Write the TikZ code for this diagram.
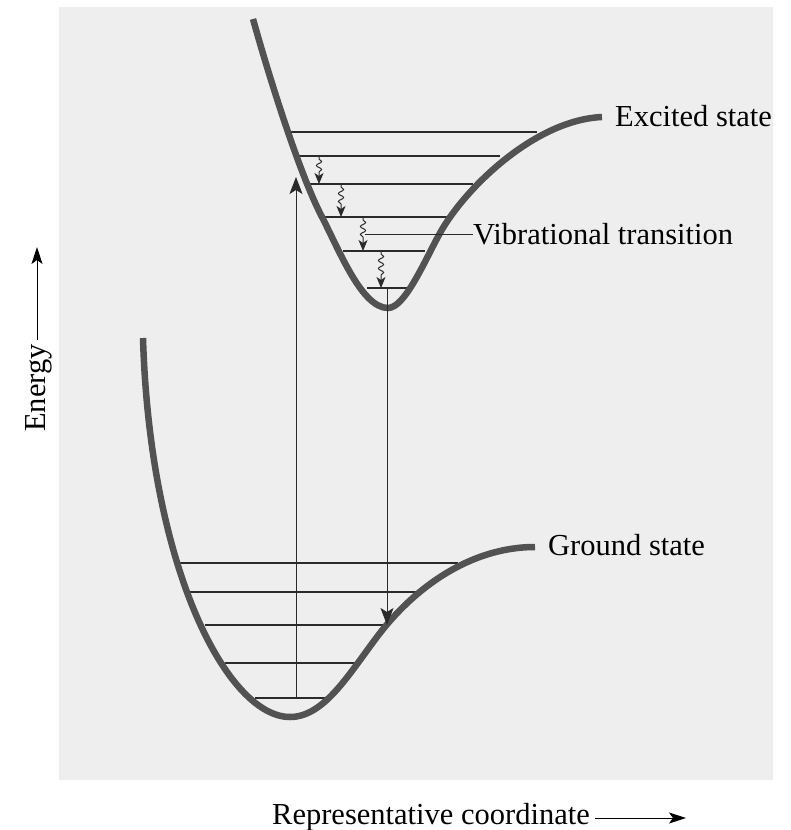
\documentclass[tikz,border=0pt]{standalone}
\usepackage{fontspec}
\setmainfont{Liberation Serif}
\usetikzlibrary{arrows.meta,decorations.pathmorphing}
\definecolor{paper}{HTML}{EEEEEE}
\definecolor{curvegray}{HTML}{525252}
\definecolor{ink}{HTML}{2A2A2A}
\begin{document}
\begin{tikzpicture}[x=1pt,y=-1pt,
  pes/.style={draw=curvegray, line width=6.5pt},
  level/.style={draw=ink, line width=1.6pt},
  thin/.style={draw=ink, line width=0.9pt},
  bigtip/.style={-{Stealth[length=17pt,width=13pt,inset=4pt]}},
  wavy/.style={draw=ink, line width=1pt, decorate,
    decoration={snake, amplitude=2.6pt, segment length=8pt, pre length=2pt, post length=11pt},
    -{Stealth[length=11pt,width=9pt,inset=3pt]}},
  axarrow/.style={draw=black, line width=1pt, -{Stealth[length=17pt,width=11pt,inset=4pt]}},
  lbl/.style={inner sep=0pt, font=\fontsize{30.5}{36}\selectfont}]
\useasboundingbox (0,0) rectangle (791,830);
\fill[paper] (59,7) rectangle (773,780);

% vibrational levels, excited state
\draw[level] (288,132) -- (537,132);
\draw[level] (298,156) -- (500,156);
\draw[level] (310,184) -- (473,184);
\draw[level] (325,217) -- (450,217);
\draw[level] (343,251) -- (425,251);
\draw[level] (367,288) -- (407,288);

% vibrational levels, ground state
\draw[level] (180,563) -- (458,563);
\draw[level] (190,592) -- (422,592);
\draw[level] (205,625) -- (387,625);
\draw[level] (225,663) -- (357,663);
\draw[level] (255,698) -- (327,698);

% potential energy curves
\draw[pes] (253,19) .. controls (270,80) and (300,175) .. (322,217)
  .. controls (340,252) and (362,308) .. (388,308)
  .. controls (405,308) and (425,260) .. (440,233)
  .. controls (465,188) and (535,120) .. (602,117);
\draw[pes] (143,338) .. controls (150,570) and (228,717) .. (290,717)
  .. controls (325,717) and (350,672) .. (380,633)
  .. controls (415,588) and (470,547) .. (535,547);

% absorption and emission
\coordinate (absfrom) at (296,698);
\coordinate (absto) at (296,177);
\coordinate (emfrom) at (387,288);
\coordinate (emto) at (387,625);
\draw[thin, bigtip] (absfrom) -- (absto);
\draw[thin, bigtip] (emfrom) -- (emto);

% vibrational relaxation
\coordinate (w1a) at (319,157); \coordinate (w1b) at (319,184);
\coordinate (w2a) at (341,185); \coordinate (w2b) at (341,217);
\coordinate (w3a) at (363,218); \coordinate (w3b) at (363,251);
\coordinate (w4a) at (381,252); \coordinate (w4b) at (381,288);
\draw[wavy] (w1a) -- (w1b);
\draw[wavy] (w2a) -- (w2b);
\draw[wavy] (w3a) -- (w3b);
\draw[wavy] (w4a) -- (w4b);

% labels
\node[lbl, anchor=base west] (exc) at (615,126) {Excited state};
\node[lbl, anchor=base west] (vib) at (473,244) {Vibrational transition};
\node[lbl, anchor=base west] (gnd) at (548,555) {Ground state};
\node[lbl, anchor=base west] (rep) at (272,824) {Representative coordinate};
\node[lbl, rotate=90, anchor=base west] (en) at (45,432) {Energy};

\coordinate (vibleft) at (365,234);
\draw[thin] (vibleft) -- (vib.west |- vibleft);

\coordinate (repa) at (595,818); \coordinate (repb) at (686,818);
\draw[axarrow] (repa) -- (repb);
\coordinate (ena) at (37,340); \coordinate (enb) at (37,247);
\draw[axarrow] (ena) -- (enb);
\end{tikzpicture}
\end{document}
